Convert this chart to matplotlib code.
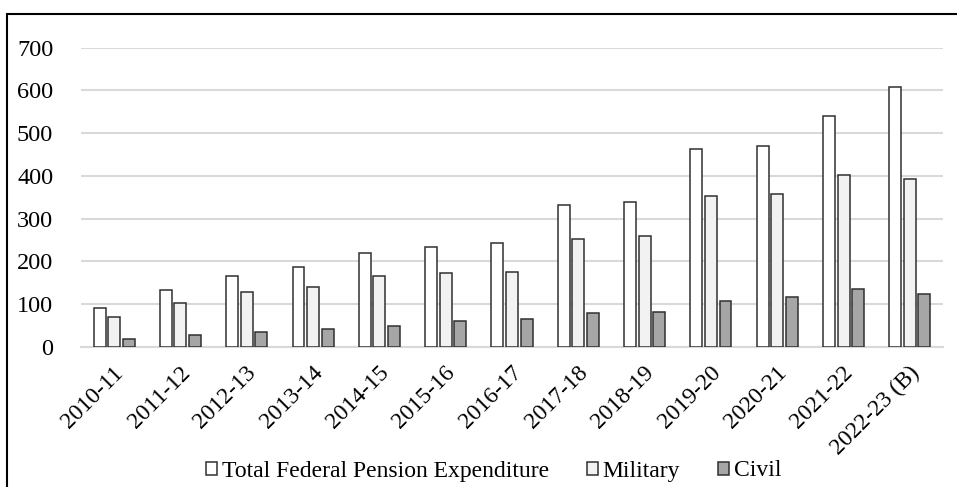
import matplotlib
matplotlib.use("Agg")
import matplotlib.pyplot as plt
import matplotlib.transforms as mtransforms
import numpy as np
from matplotlib.patches import Rectangle

years = ["2010-11", "2011-12", "2012-13", "2013-14", "2014-15", "2015-16",
         "2016-17", "2017-18", "2018-19", "2019-20", "2020-21", "2021-22",
         "2022-23 (B)"]
total = [91, 134, 166, 187, 219, 234, 243, 333, 340, 463, 470, 540, 608]
military = [70, 104, 129, 141, 167, 172, 176, 252, 259, 353, 358, 403, 393]
civil = [19.5, 27, 34, 43, 50, 60, 65, 79, 81, 107, 116, 135, 123]

plt.rcParams["font.family"] = ["Liberation Serif", "DejaVu Serif"]

fig = plt.figure(figsize=(9.57, 4.87), dpi=100)
ax = fig.add_axes([81 / 957, 1 - 347 / 487, (943 - 81) / 957, (347 - 47.7) / 487])

x = np.arange(len(years))
w = 0.18
step = 0.22
series = [
    (total, "#ffffff", "Total Federal Pension Expenditure"),
    (military, "#f2f2f2", "Military"),
    (civil, "#a6a6a6", "Civil"),
]
for i, (vals, color, label) in enumerate(series):
    ax.bar(x + (i - 1) * step, vals, width=w, color=color, edgecolor="#303030",
           linewidth=1.1, label=label, zorder=3)

ax.set_xlim(-0.5, len(years) - 0.5)
ax.set_ylim(0, 700)
ax.set_yticks(range(0, 701, 100))
ax.yaxis.grid(True, color="#d9d9d9", linewidth=1.5, zorder=0)
ax.set_axisbelow(True)
for s in ["top", "right", "left"]:
    ax.spines[s].set_visible(False)
ax.spines["bottom"].set_color("#d9d9d9")
ax.spines["bottom"].set_linewidth(1.5)
ax.tick_params(axis="y", length=0, pad=20, labelsize=17.5)
ax.tick_params(axis="x", length=0, pad=11, labelsize=17)
ax.set_xticks(x)
ax.set_xticklabels(years, rotation=45, ha="right", rotation_mode="anchor")

# nudge the rotated labels so they end just under each group
offset = mtransforms.ScaledTranslation(-1 / 100, 0, fig.dpi_scale_trans)
for lbl in ax.get_xticklabels():
    lbl.set_transform(lbl.get_transform() + offset)

fig.legend(loc="center", bbox_to_anchor=(493.5 / 957, 1 - 471 / 487), ncol=3,
           frameon=False, fontsize=17, handlelength=0.48, handleheight=0.48,
           handletextpad=0.2, columnspacing=1.6)

# outer chart border
fig.patches.append(Rectangle((7 / 957, -0.05), 1.0, 1.05 - 14 / 487,
                             transform=fig.transFigure, fill=False,
                             edgecolor="black", linewidth=1.5))

fig.savefig("out.png", dpi=100)
